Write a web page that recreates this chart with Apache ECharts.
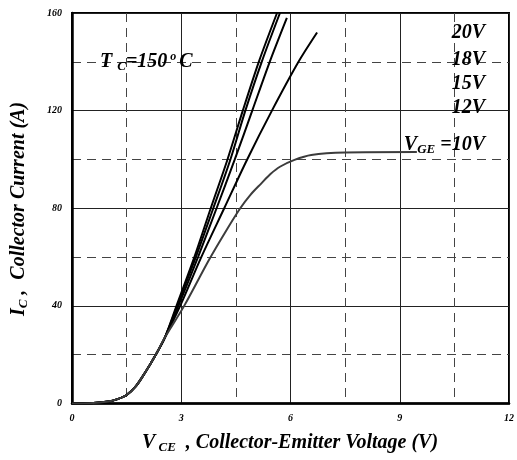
<!DOCTYPE html>
<html>
<head>
<meta charset="UTF-8">
<title>IC - VCE output characteristics</title>
<script src="https://cdn.jsdelivr.net/npm/echarts@6/dist/echarts.min.js"></script>
<style>
html, body { margin: 0; padding: 0; background: #fff; }
#container { width: 517px; height: 460px; }
</style>
</head>
<body>
<div id="container"></div>
<script>
// axis ranges / ticks
var xTicks = [0, 3, 6, 9, 12];
var yTicks = [0, 40, 80, 120, 160];

// shared low-current part of all curves [V_CE, I_C]
var lowPart = [[0, 0], [0.5, 0.1], [1.0, 0.8], [1.25, 1.8], [1.5, 3.5], [1.75, 7], [2.0, 12.5], [2.3, 20], [2.55, 27]];
// upper part of each curve, per gate voltage
var vge20 = [[2.87, 40], [3.36, 60], [3.81, 80], [4.27, 100], [4.69, 120], [5.13, 140], [5.63, 160]];
var vge18 = [[2.89, 40], [3.40, 60], [3.88, 80], [4.35, 100], [4.76, 120], [5.21, 140], [5.71, 160]];
var vge15 = [[2.92, 40], [3.46, 60], [3.97, 80], [4.47, 100], [4.95, 120], [5.43, 140], [5.90, 158]];
var vge12 = [[2.97, 40], [3.55, 60], [4.18, 80], [4.81, 100], [5.49, 120], [6.22, 140], [6.73, 152]];
var vge10 = [[3.08, 40], [3.76, 58.8], [4.2, 70], [4.62, 80], [4.9, 85.5], [5.2, 90.2], [5.45, 94], [5.71, 97],
             [6.11, 99.8], [6.57, 101.8], [7.5, 102.8], [9.47, 103]];
var gateLabels = ['20V', '18V', '15V', '12V'];

var serif = '"Liberation Serif", "Times New Roman", serif';

function fnt(size, extra) {
    var s = { fontSize: size, fontFamily: serif, fontWeight: 'bold', fontStyle: 'italic', fill: '#000', color: '#000' };
    for (var k in extra) s[k] = extra[k];
    return s;
}

function curve(name, pts, color) {
    return {
        name: name,
        type: 'line',
        data: lowPart.concat(pts),
        smooth: 0.3,
        showSymbol: false,
        symbol: 'none',
        lineStyle: { color: color, width: 2 },
        z: 5
    };
}

var richMain = {
    m: fnt(20, { lineHeight: 22, verticalAlign: 'middle' }),
    s: fnt(13, { lineHeight: 8, verticalAlign: 'bottom' }),
    u: fnt(12, { lineHeight: 8, verticalAlign: 'top' })
};

var chart = echarts.init(document.getElementById('container'));

chart.setOption({
    animation: false,
    backgroundColor: '#fff',
    grid: {
        left: 72, top: 13, width: 441, height: 390.5,
        show: true, borderColor: '#000', borderWidth: 2
    },
    xAxis: {
        type: 'value',
        min: xTicks[0], max: xTicks[xTicks.length - 1], interval: 3,
        axisLine: { show: true, onZero: false, lineStyle: { color: '#000', width: 2.5 } },
        axisTick: { show: false },
        minorTick: { show: false, splitNumber: 2 },
        axisLabel: { margin: 10, fontSize: 10, fontWeight: 'bold', fontStyle: 'italic', fontFamily: serif, color: '#000' },
        splitLine: { show: true, lineStyle: { color: '#222', width: 1 } },
        minorSplitLine: { show: true, lineStyle: { color: '#444', width: 1, type: [9, 6] } }
    },
    yAxis: {
        type: 'value',
        min: yTicks[0], max: yTicks[yTicks.length - 1], interval: 40,
        axisLine: { show: true, onZero: false, lineStyle: { color: '#000', width: 2.5 } },
        axisTick: { show: false },
        minorTick: { show: false, splitNumber: 2 },
        axisLabel: { margin: 10, fontSize: 10, fontWeight: 'bold', fontStyle: 'italic', fontFamily: serif, color: '#000' },
        splitLine: { show: true, lineStyle: { color: '#222', width: 1 } },
        minorSplitLine: { show: true, lineStyle: { color: '#444', width: 1, type: [9, 6] } }
    },
    series: [
        curve('20V', vge20, '#000'),
        curve('18V', vge18, '#000'),
        curve('15V', vge15, '#000'),
        curve('12V', vge12, '#000'),
        curve('10V', vge10, '#3c3c3c')
    ],
    graphic: [
        { type: 'text', x: 290, y: 443, z: 10,
          style: { text: '{m|V}{s| CE}{m|  , Collector-Emitter Voltage (V)}', rich: richMain, align: 'center', verticalAlign: 'middle' } },
        { type: 'text', x: 19, y: 209, rotation: Math.PI / 2, z: 10,
          style: { text: '{m|I}{s|C}{m| ,  Collector Current (A)}', rich: richMain, align: 'center', verticalAlign: 'middle' } },
        { type: 'text', x: 100, y: 62, z: 10,
          style: { text: '{m|T }{s|C}{m|=150}{u| o }{m|C}', rich: richMain, align: 'left', verticalAlign: 'middle' } },
        { type: 'text', x: 485, y: 33, z: 10, style: fnt(20, { text: gateLabels[0], align: 'right', verticalAlign: 'middle' }) },
        { type: 'text', x: 485, y: 60, z: 10, style: fnt(20, { text: gateLabels[1], align: 'right', verticalAlign: 'middle' }) },
        { type: 'text', x: 485, y: 84, z: 10, style: fnt(20, { text: gateLabels[2], align: 'right', verticalAlign: 'middle' }) },
        { type: 'text', x: 485, y: 108, z: 10, style: fnt(20, { text: gateLabels[3], align: 'right', verticalAlign: 'middle' }) },
        { type: 'text', x: 485, y: 145, z: 10,
          style: { text: '{m|V}{s|GE}{m| =10V}', rich: richMain, align: 'right', verticalAlign: 'middle' } }
    ]
});
</script>
</body>
</html>
